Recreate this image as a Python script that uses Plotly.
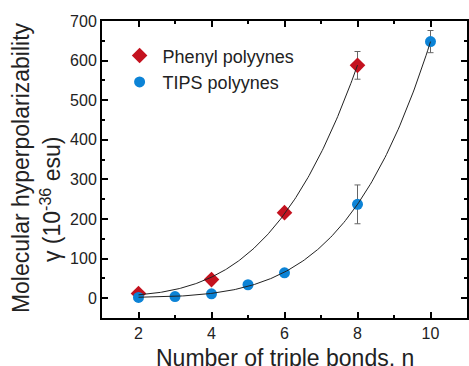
import numpy as np
import plotly.graph_objects as go

# Data
phenyl_n = [2, 4, 6, 8]
phenyl_gamma = [12, 47, 216, 588]
phenyl_err = [0, 9, 0, 35]

tips_n = [2, 3, 4, 5, 6, 8, 10]
tips_gamma = [2, 4, 11, 34, 64, 237, 648]
tips_err = [0, 0, 0, 0, 0, 49, 28]

x_ticks = [2, 4, 6, 8, 10]
y_ticks = [0, 100, 200, 300, 400, 500, 600, 700]


def power_fit(n, y):
    n = np.asarray(n, float)
    y = np.asarray(y, float)
    best = None
    for b in np.arange(1.0, 8.0, 0.01):
        A = np.column_stack([np.ones_like(n), n ** b])
        coef, *_ = np.linalg.lstsq(A, y, rcond=None)
        r = np.sum((A @ coef - y) ** 2)
        if best is None or r < best[0]:
            best = (r, coef, b)
    _, (c, a), b = best
    xs = np.linspace(n.min(), n.max(), 200)
    return xs, c + a * xs ** b


red = "#c4121f"
blue = "#0c83d6"

fig = go.Figure()
fig.add_trace(go.Scatter(
    x=phenyl_n, y=phenyl_gamma, mode="markers", name="Phenyl polyynes",
    marker=dict(symbol="diamond", size=12, color=red),
    error_y=dict(type="data", array=phenyl_err, color="#666666", thickness=1, width=3),
))
fig.add_trace(go.Scatter(
    x=tips_n, y=tips_gamma, mode="markers", name="TIPS polyynes",
    marker=dict(symbol="circle", size=11, color=blue),
    error_y=dict(type="data", array=tips_err, color="#666666", thickness=1, width=3),
))
for nn, yy in [(phenyl_n, phenyl_gamma), (tips_n, tips_gamma)]:
    xs, ys = power_fit(nn, yy)
    fig.add_trace(go.Scatter(x=xs, y=ys, mode="lines", showlegend=False,
                             line=dict(color="#222222", width=1), hoverinfo="skip"))

font = "Liberation Sans, Arial, sans-serif"
axis_common = dict(
    showline=True, linecolor="black", linewidth=2, mirror="ticks",
    ticks="inside", ticklen=6, tickwidth=2, tickcolor="black",
    showgrid=False, zeroline=False, automargin=False,
    tickfont=dict(family=font, size=16, color="#222"),
)
fig.update_xaxes(range=[1, 11], tickvals=x_ticks,
                 minor=dict(dtick=1, ticks="inside", ticklen=3, tickwidth=2, tickcolor="black"),
                 **axis_common)
fig.update_yaxes(range=[-50, 700], tickvals=y_ticks,
                 minor=dict(dtick=50, tick0=0, ticks="inside", ticklen=3, tickwidth=2, tickcolor="black"),
                 **axis_common)

fig.update_layout(
    width=469, height=366,
    margin=dict(l=102, r=2, t=21, b=48),
    plot_bgcolor="white", paper_bgcolor="white",
    font=dict(family=font, color="#222"),
    legend=dict(x=0.04, y=0.945, xanchor="left", yanchor="top",
                font=dict(family=font, size=18, color="#222"),
                bgcolor="rgba(0,0,0,0)", itemwidth=36, tracegroupgap=0),
    annotations=[
        dict(text="Number of triple bonds, n", xref="paper", yref="paper",
             x=0.5, y=-0.133, xanchor="center", yanchor="middle", showarrow=False,
             font=dict(family=font, size=23, color="#222")),
        dict(text="Molecular hyperpolarizability", textangle=-90, xref="paper", yref="paper",
             x=-0.222, y=0.508, xanchor="center", yanchor="middle", showarrow=False,
             font=dict(family=font, size=23, color="#222")),
        dict(text="γ (10<sup>-36</sup> esu)", textangle=-90, xref="paper", yref="paper",
             x=-0.14, y=0.40, xanchor="center", yanchor="middle", showarrow=False,
             font=dict(family=font, size=23, color="#222")),
    ],
)

fig.write_html("out.html", config={"displayModeBar": False},
               post_script="document.body.style.margin='0';document.body.style.overflow='hidden';")
